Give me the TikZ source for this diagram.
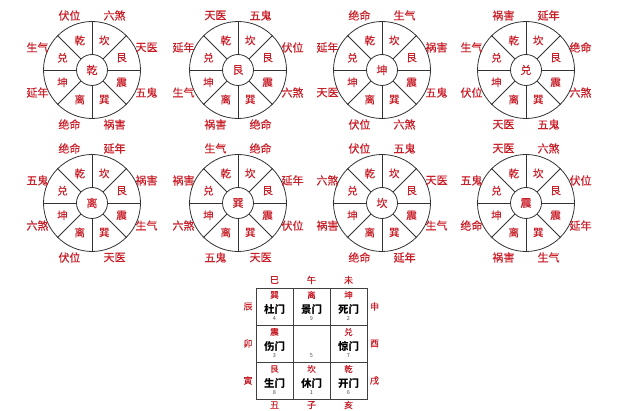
\documentclass[tikz,border=0pt]{standalone}
\usepackage{fontspec}
\setmainfont{Noto Sans CJK SC}
\newfontfamily\bzmid[FakeBold=0.4]{Noto Sans CJK SC}
\usetikzlibrary{calc}
\definecolor{bzred}{RGB}{200,30,40}
\tikzset{bzout/.style={circle,draw=black!80,line width=0.8pt,minimum size=97pt,inner sep=0pt},
         bzin/.style={circle,draw=black!80,line width=0.8pt,minimum size=31pt,inner sep=0pt,text=bzred,font=\bzmid\fontsize{11}{11}\selectfont},
         bzgua/.style={text=bzred,font=\bzmid\fontsize{10.5}{10.5}\selectfont,inner sep=0pt},
         bzlab/.style={text=bzred,font=\bzmid\fontsize{11}{11}\selectfont,inner sep=0pt},
         bzcell/.style={rectangle,draw=black!75,line width=0.8pt,minimum size=37pt,inner sep=0pt},
         bzmen/.style={font=\bfseries\fontsize{10.5}{10.5}\selectfont,inner sep=0pt},
         bznum/.style={font=\fontsize{5.5}{5.5}\selectfont,inner sep=0pt,text=black!70},
         bzzhi/.style={text=bzred,font=\bzmid\fontsize{9}{9}\selectfont,inner sep=0pt}}

\begin{document}
\begin{tikzpicture}[x=1pt,y=1pt]
  \useasboundingbox (0,0) rectangle (624,410);
  \foreach \n/\x/\y/\c/\la/\lb/\lc/\ld/\le/\lf/\lg/\lh in {
      1/92/340/乾/伏位/六煞/天医/五鬼/祸害/绝命/延年/生气,
      2/238/340/艮/天医/五鬼/伏位/六煞/绝命/祸害/生气/延年,
      3/382/340/坤/绝命/生气/祸害/五鬼/六煞/伏位/天医/延年,
      4/526/340/兑/祸害/延年/绝命/六煞/五鬼/天医/伏位/生气,
      5/92/207/离/绝命/延年/祸害/生气/天医/伏位/六煞/五鬼,
      6/238/207/巽/生气/绝命/延年/伏位/天医/五鬼/六煞/祸害,
      7/382/207/坎/伏位/五鬼/天医/生气/延年/绝命/祸害/六煞,
      8/526/207/震/天医/六煞/伏位/延年/生气/祸害/绝命/五鬼}
  {
    \node[bzout] (o\n) at (\x,\y) {};
    \node[bzin] (i\n) at (\x,\y) {\c};
    \foreach \a in {0,45,...,315} \draw[black!80,line width=0.8pt] (i\n.\a) -- (o\n.\a);
    \foreach \g/\a [count=\k] in {乾/112.5,坎/67.5,艮/22.5,震/-22.5,巽/-67.5,离/-112.5,坤/-157.5,兑/157.5}
      \node[bzgua] (g\n-\k) at ($(o\n.center)+(\a:32)$) {\g};
    \foreach \t/\a [count=\k] in {\la/112.5,\lb/67.5,\lc/22.5,\ld/-22.5,\le/-67.5,\lf/-112.5,\lg/-157.5,\lh/157.5}
      \node[bzlab] (l\n-\k) at ($(o\n.center)+(\a:59)$) {\t};
  }
  \foreach \k/\x/\y/\g/\m/\s in {1/274.5/103.5/巽/杜门/4, 2/311.5/103.5/离/景门/9, 3/348.5/103.5/坤/死门/2,
      4/274.5/66.5/震/伤门/3, 6/348.5/66.5/兑/惊门/7,
      7/274.5/29.5/艮/生门/8, 8/311.5/29.5/坎/休门/1, 9/348.5/29.5/乾/开门/6}
  {
    \node[bzcell] (c\k) at (\x,\y) {};
    \node[bzgua,font=\bzmid\fontsize{8.5}{8.5}\selectfont] (cg\k) at ($(c\k.center)+(0,11.5)$) {\g};
    \node[bzmen] (cm\k) at ($(c\k.center)+(0,-2.5)$) {\m};
    \node[bznum] (cs\k) at ($(c\k.center)+(0,-12.5)$) {\s};
  }
  \node[bzcell] (c5) at (311.5,66.5) {};
  \node[bznum] (cs5) at ($(c5.center)+(0,-12.5)$) {5};
  \foreach \z/\x/\y [count=\k] in {巳/274.5/130, 午/311.5/130, 未/348.5/130, 辰/248/103.5, 卯/248/66.5, 寅/248/29.5,
      申/374.5/103.5, 酉/374.5/66.5, 戌/374.5/29.5, 丑/274.5/5, 子/311.5/5, 亥/348.5/5}
    \node[bzzhi] (z\k) at (\x,\y) {\z};
\end{tikzpicture}
\end{document}
